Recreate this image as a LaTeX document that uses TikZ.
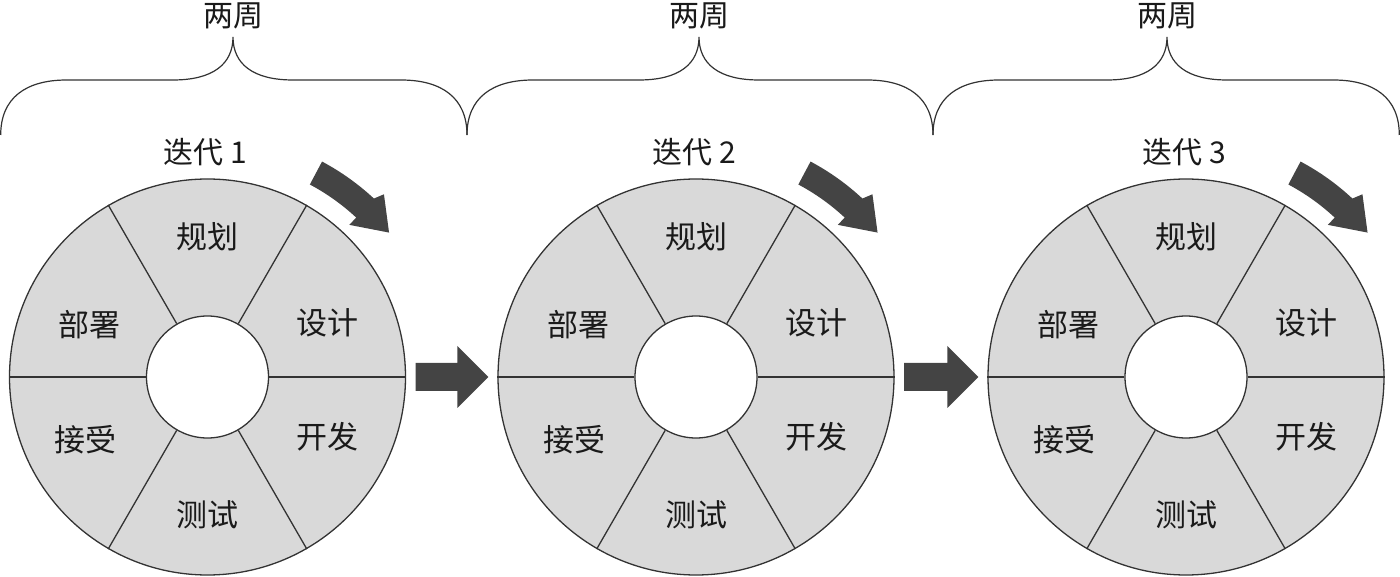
\documentclass[tikz,border=0pt]{standalone}
\usepackage{fontspec}
\newfontfamily\cjk{Noto Sans CJK SC}
\usetikzlibrary{calc}
\definecolor{ringgray}{HTML}{D9D9D9}
\definecolor{linegray}{HTML}{333333}
\definecolor{arrowdark}{HTML}{444444}
\definecolor{txt}{HTML}{1A1A1A}
\tikzset{
  ring/.style={circle, draw=linegray, line width=1.3pt, fill=ringgray, minimum size=396pt, inner sep=0pt},
  hole/.style={circle, draw=linegray, line width=1.3pt, fill=white, minimum size=122pt, inner sep=0pt},
  spoke/.style={draw=linegray, line width=1.3pt},
  sector/.style={text=txt, font=\cjk\fontsize{31}{33}\selectfont, inner sep=0pt},
  toplabel/.style={text=txt, font=\cjk\fontsize{30}{32}\selectfont, inner sep=0pt},
  bracepath/.style={draw=linegray, line width=1.2pt},
  bigarrow/.style={fill=arrowdark, draw=none}
}
\begin{document}
\begin{tikzpicture}[x=1pt,y=1pt]
\useasboundingbox (0,0) rectangle (1400,576);
\foreach \i/\cx in {1/207.5, 2/696, 3/1186}{
  \node[ring] (o\i) at (\cx,199) {};
  \node[hole] (h\i) at (\cx,199) {};
  \foreach \a in {0,60,120,180,240,300}{
    \draw[spoke] (h\i.\a) -- (o\i.\a);
  }
  \node[sector] (plan\i) at ($(o\i.center)+(0,140)$) {规划};
  \node[sector] (design\i) at ($(o\i.center)+(120,54)$) {设计};
  \node[sector] (dev\i) at ($(o\i.center)+(120,-60)$) {开发};
  \node[sector] (test\i) at ($(o\i.center)+(0,-138)$) {测试};
  \node[sector] (accept\i) at ($(o\i.center)+(-122,-63)$) {接受};
  \node[sector] (deploy\i) at ($(o\i.center)+(-118,52)$) {部署};
  \node[toplabel] (iter\i) at ($(o\i.center)+(-2,225)$) {迭代 \i};
  % curved arrow
  \fill[bigarrow] ($(o\i.center)+(62:218)$) arc[start angle=62,end angle=47,radius=218]
    -- ($(o\i.center)+(47:208)$) -- ($(o\i.center)+(38.5:232)$) -- ($(o\i.center)+(46:254)$)
    -- ($(o\i.center)+(47:244)$) arc[start angle=47,end angle=62,radius=244] -- cycle;
}
% straight block arrows between iterations
\foreach \a/\b in {1/2, 2/3}{
  \coordinate (s\a) at ($(o\a.east)+(9.5,0)$);
  \coordinate (t\a) at ($(o\b.west)+(-9,0)$);
  \fill[bigarrow] ($(s\a)+(0,14)$) -- ($(t\a)+(-31,14)$) -- ($(t\a)+(-31,31)$) -- (t\a)
    -- ($(t\a)+(-31,-31)$) -- ($(t\a)+(-31,-14)$) -- ($(s\a)+(0,-14)$) -- cycle;
}
% braces
\foreach \k/\a/\b/\m in {1/0.7/467/233, 2/467/933/699, 3/933/1399.3/1167}{
  \coordinate (bl\k) at (\a,441);
  \coordinate (br\k) at (\b,441);
  \coordinate (bt\k) at (\m,539);
  \draw[bracepath] (bl\k) .. controls (\a,478) and (\a+25,496) .. (\a+66,496)
    -- (\m-60,496) .. controls (\m-20,496) and (\m,512) .. (bt\k)
    .. controls (\m,512) and (\m+20,496) .. (\m+60,496)
    -- (\b-66,496) .. controls (\b-25,496) and (\b,478) .. (br\k);
  \node[toplabel] (weeks\k) at (\m,560) {两周};
}
\end{tikzpicture}
\end{document}
